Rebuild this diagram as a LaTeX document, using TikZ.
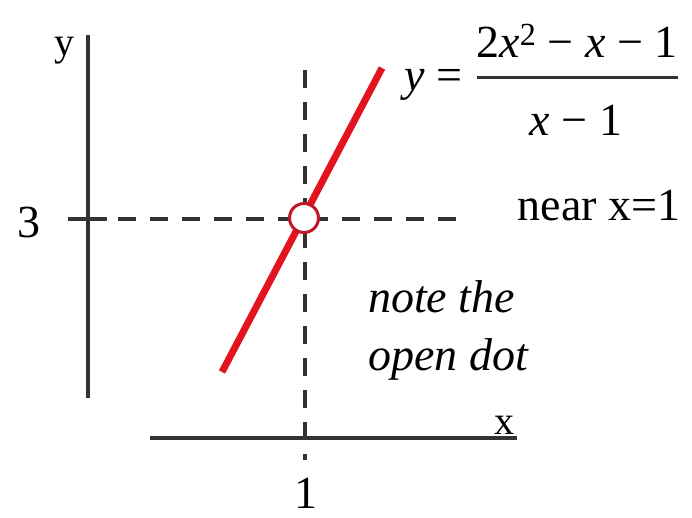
\documentclass[tikz,border=0pt]{standalone}
\usepackage{fontspec}
\setmainfont{Liberation Serif}
\usetikzlibrary{positioning}
\definecolor{gink}{HTML}{333333}
\definecolor{gred}{HTML}{E2141F}
\definecolor{gdot}{HTML}{C4162A}
\tikzset{
  axis/.style={draw=gink,line width=3.2pt},
  guide/.style={draw=gink,line width=3.4pt,dash pattern=on 18pt off 14pt},
  curve/.style={draw=gred,line width=7pt},
  hole/.style={circle,draw=gdot,fill=white,line width=3pt,minimum size=29pt,inner sep=0pt},
  lbl/.style={inner sep=0pt,text=black,font=\fontsize{40}{44}\selectfont},
  big/.style={inner sep=0pt,text=black,font=\fontsize{46}{50}\selectfont},
  note/.style={inner sep=0pt,text=black,font=\fontsize{46}{50}\selectfont\itshape},
}
\begin{document}
\begin{tikzpicture}[x=1pt,y=-1pt]
  \useasboundingbox (0,0) rectangle (692,517);
  % axes
  \coordinate (ytop) at (88,35);  \coordinate (ybot) at (88,398);
  \coordinate (xl) at (150,438);  \coordinate (xr) at (517,438);
  \coordinate (tl) at (68,219);   \coordinate (tr) at (107,219);
  \draw[axis] (ytop) -- (ybot);
  \draw[axis] (xl) -- (xr);
  \draw[axis] (tl) -- (tr);
  \node[lbl,anchor=base] (ylab) at (64,55) {y};
  \node[lbl,anchor=base] (xlab) at (504,434) {x};
  \node[big,anchor=base] (three) at (29,237) {3};
  \node[big,anchor=base] (one) at (306,508) {1};
  % guides through the hole
  \coordinate (gl) at (118,219);  \coordinate (gr) at (457,219);
  \coordinate (gt) at (305,70);   \coordinate (gb) at (305,460);
  \draw[guide] (gl) -- (gr);
  \draw[guide] (gt) -- (gb);
  % the line and its missing point
  \coordinate (lo) at (222,372);  \coordinate (hi) at (382,68);
  \draw[curve] (lo) -- (hi);
  \node[hole] (gap) at (304,218) {};
  % formula
  \node[big,anchor=base] (yeq) at (433,90) {\textit{y} =};
  \node[big,anchor=base] (num) at (577,57) {2\textit{x}\raisebox{0.05em}{\textsuperscript{2}} − \textit{x} − 1};
  \node[big,anchor=base] (den) at (576,135) {\textit{x} − 1};
  \coordinate (bl) at (477,77);   \coordinate (br) at (678,77);
  \draw[draw=gink,line width=3pt] (bl) -- (br);
  \node[big,anchor=base] (near) at (599,220) {near x=1};
  \node[note,anchor=base west] (note1) at (368,312) {note the};
  \node[note,anchor=base west] (note2) at (368,370) {open dot};
\end{tikzpicture}
\end{document}
